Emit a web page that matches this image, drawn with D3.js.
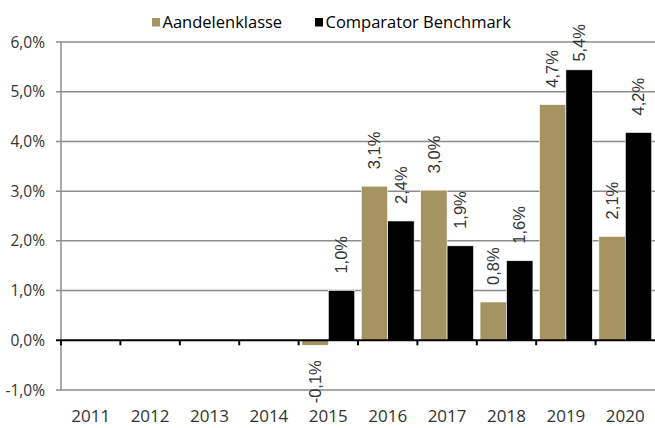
<!DOCTYPE html>
<html lang="nl">
<head>
  <meta charset="UTF-8">
  <title>Aandelenklasse vs Comparator Benchmark</title>
  <script src="https://d3js.org/d3.v7.min.js"></script>
  <style>
    body { margin: 0; background: #fff; }
    svg { display: block; font-family: "Open Sans", sans-serif; }
  </style>
</head>
<body>
  <svg width="655" height="428"></svg>

  <script>
    const years = ['2011', '2012', '2013', '2014', '2015', '2016', '2017', '2018', '2019', '2020'];
    const aandelen = [null, null, null, null, -0.1, 3.1, 3.02, 0.77, 4.74, 2.09];
    const benchmark = [null, null, null, null, 1.0, 2.4, 1.9, 1.6, 5.44, 4.18];
    const yTicks = [-1, 0, 1, 2, 3, 4, 5, 6];
    const seriesNames = ['Aandelenklasse', 'Comparator Benchmark'];
    const colors = ['#a59461', '#000000'];

    const svg = d3.select('svg');
    const mLeft = 61, mRight = 655, mTop = 42, mBottom = 390;

    const x = d3.scaleBand().domain(years).range([mLeft, mRight])
      .paddingInner(0.11).paddingOuter(0.055);
    const x1 = d3.scaleBand().domain([0, 1]).range([0, x.bandwidth()]);
    const y = d3.scaleLinear().domain([-1, 6]).range([mBottom, mTop]);
    const fmt = v => v.toFixed(1).replace('.', ',') + '%';

    // gridlines
    svg.selectAll('.grid').data(yTicks.filter(d => d !== 0)).enter()
      .append('line')
      .attr('x1', mLeft - 5).attr('x2', mRight)
      .attr('y1', d => y(d)).attr('y2', d => y(d))
      .attr('stroke', '#8c8c8c').attr('stroke-width', 1.5);

    // y axis line
    svg.append('line')
      .attr('x1', mLeft).attr('x2', mLeft)
      .attr('y1', y(6)).attr('y2', y(-1))
      .attr('stroke', '#8c8c8c').attr('stroke-width', 1.5);

    svg.selectAll('.ylab').data(yTicks).enter()
      .append('text')
      .attr('x', 45).attr('y', d => y(d))
      .attr('dy', '0.36em')
      .attr('text-anchor', 'end')
      .attr('font-size', 15.5)
      .attr('fill', '#333')
      .text(d => d.toFixed(1).replace('.', ',') + '%');

    // bars
    const rows = years.map((yr, i) => [aandelen[i], benchmark[i]]);
    const groups = svg.selectAll('.grp').data(rows).enter()
      .append('g')
      .attr('transform', (d, i) => `translate(${x(years[i])},0)`);

    groups.selectAll('rect')
      .data(d => d.map((v, k) => ({ v, k })).filter(e => e.v !== null))
      .enter().append('rect')
      .attr('x', e => x1(e.k))
      .attr('width', x1.bandwidth())
      .attr('y', e => y(Math.max(0, e.v)))
      .attr('height', e => Math.abs(y(e.v) - y(0)))
      .attr('fill', e => colors[e.k])
      .attr('stroke', '#fff').attr('stroke-width', 0.6);

    // data labels
    groups.selectAll('text')
      .data(d => d.map((v, k) => ({ v, k })).filter(e => e.v !== null))
      .enter().append('text')
      .attr('font-family', '"Liberation Sans", Arial, sans-serif')
      .attr('font-size', 16.5)
      .attr('fill', '#333')
      .attr('dy', '0.35em')
      .attr('text-anchor', e => e.v < 0 ? 'end' : 'start')
      .text(e => fmt(e.v))
      .attr('transform', function(e) {
        const cx = x1(e.k) + x1.bandwidth() / 2;
        let py;
        if (e.v < 0) {
          py = y(e.v) + 15;
        } else {
          const w = this.getComputedTextLength();
          py = Math.max(y(e.v) - 17, 24 + w);
        }
        return `translate(${cx},${py}) rotate(-90)`;
      });

    // zero line and category ticks
    svg.append('line')
      .attr('x1', mLeft - 5).attr('x2', mRight)
      .attr('y1', y(0)).attr('y2', y(0))
      .attr('stroke', '#000').attr('stroke-width', 2);

    const step = x.step();
    svg.selectAll('.xt').data(d3.range(years.length)).enter()
      .append('line')
      .attr('x1', i => mLeft + i * step).attr('x2', i => mLeft + i * step)
      .attr('y1', y(0)).attr('y2', y(0) + 5)
      .attr('stroke', '#000').attr('stroke-width', 2);

    svg.selectAll('.xlab').data(years).enter()
      .append('text')
      .attr('x', d => x(d) + x.bandwidth() / 2)
      .attr('y', 422)
      .attr('text-anchor', 'middle')
      .attr('font-size', 17)
      .attr('fill', '#333')
      .text(d => d);

    // legend
    const legend = svg.append('g');
    const lx = [152, 315];
    seriesNames.forEach((name, k) => {
      legend.append('rect')
        .attr('x', lx[k]).attr('y', 18).attr('width', 8).attr('height', 8.5)
        .attr('fill', colors[k]);
      legend.append('text')
        .attr('x', lx[k] + 10.5).attr('y', 28)
        .attr('font-size', 16.5)
        .attr('fill', '#000')
        .text(name);
    });
  </script>
</body>
</html>
